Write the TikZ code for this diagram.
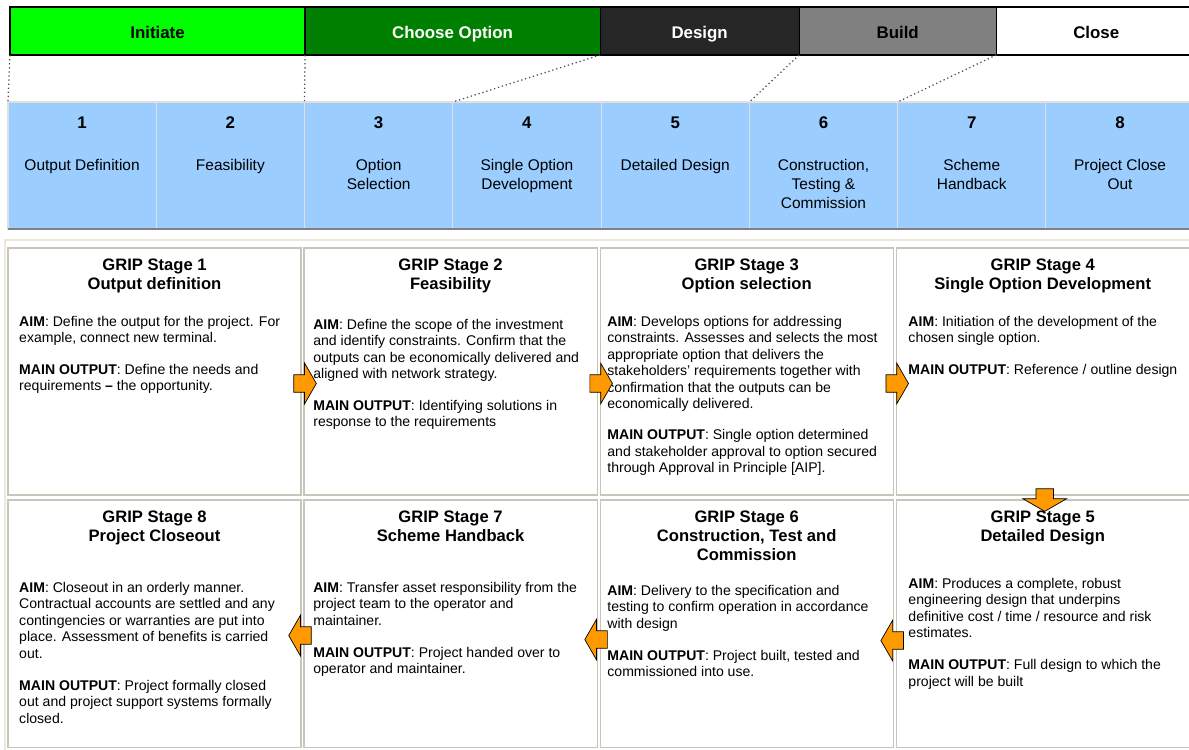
\documentclass[tikz,border=0pt]{standalone}
\usepackage{fontspec}
\setmainfont{Liberation Sans}
\usepackage{xcolor}
\usepackage{tikz}
\usetikzlibrary{shapes,shapes.arrows,calc}
\usetikzlibrary{positioning}

\definecolor{initgreen}{RGB}{0,255,0}
\definecolor{choosegreen}{RGB}{0,128,0}
\definecolor{designgrey}{RGB}{38,38,38}
\definecolor{buildgrey}{RGB}{128,128,128}
\definecolor{stageblue}{RGB}{155,205,255}
\definecolor{arroworange}{RGB}{255,153,0}
\definecolor{cellline}{RGB}{200,198,186}
\definecolor{framebeige}{RGB}{236,233,218}

\tikzset{
	phase/.style={draw=black,line width=0.8pt,outer sep=0pt,minimum height=1.2cm,inner sep=0pt,text height=12.8pt,text depth=2.6pt,font=\fontsize{12}{14}\selectfont\bfseries},
	stagebox/.style={draw=white!75!gray,fill=stageblue,line width=0.8pt,outer sep=0pt,minimum width=3.706cm,minimum height=3.175cm,inner sep=0pt},
	stagenum/.style={inner sep=0pt,font=\fontsize{12}{14}\selectfont\bfseries},
	stagename/.style={anchor=north,inner sep=0pt,align=center,font=\fontsize{11}{13.5}\selectfont},
	card/.style={draw=cellline,fill=white,line width=0.8pt,outer sep=0pt,minimum width=7.325cm,minimum height=6.175cm,inner sep=0pt},
	cardtitle/.style={anchor=north,inner sep=0pt,align=center,font=\fontsize{11.8}{13.5}\selectfont\bfseries},
	cardtext/.style={anchor=north west,inner sep=0pt,align=left,font=\fontsize{10}{11.7}\selectfont},
	flow/.style={single arrow,draw=black,fill=arroworange,line width=0.5pt,inner sep=0.21cm,
		single arrow head extend=0.29cm,single arrow tip angle=120,minimum height=0.55cm},
	phaselink/.style={dotted,line width=0.9pt,black!70}
}

\begin{document}
\begin{tikzpicture}[x=0.025cm,y=-0.025cm]
	\clip (0,0) rectangle (1189,749);
	
	% phases
	\node[phase,fill=initgreen,minimum width=7.375cm] (init) at (157.5,31) {Initiate};
	\node[phase,fill=choosegreen,text=white,minimum width=7.375cm] (choose) [right=0cm of init] {Choose Option};
	\node[phase,fill=designgrey,text=white,minimum width=4.975cm] (design) [right=0cm of choose] {Design};
	\node[phase,fill=buildgrey,minimum width=4.925cm] (build) [right=0cm of design] {Build};
	\node[phase,fill=white,minimum width=5cm] (close) [right=0cm of build] {Close};
	
	% stages
	\node[stagebox] (s1) at (82.1,165.5) {};
	\node[stagebox] (s2) [right=0cm of s1] {};
	\node[stagebox] (s3) [right=0cm of s2] {};
	\node[stagebox] (s4) [right=0cm of s3] {};
	\node[stagebox] (s5) [right=0cm of s4] {};
	\node[stagebox] (s6) [right=0cm of s5] {};
	\node[stagebox] (s7) [right=0cm of s6] {};
	\node[stagebox] (s8) [right=0cm of s7] {};
	\draw[gray,line width=1pt] (s1.south west) -- (s8.south east);
	
	\node[stagenum] (n1) at ($(s1.north)+(0,21)$) {1};
	\node[stagenum] (n2) at ($(s2.north)+(0,21)$) {2};
	\node[stagenum] (n3) at ($(s3.north)+(0,21)$) {3};
	\node[stagenum] (n4) at ($(s4.north)+(0,21)$) {4};
	\node[stagenum] (n5) at ($(s5.north)+(0,21)$) {5};
	\node[stagenum] (n6) at ($(s6.north)+(0,21)$) {6};
	\node[stagenum] (n7) at ($(s7.north)+(0,21)$) {7};
	\node[stagenum] (n8) at ($(s8.north)+(0,21)$) {8};
	
	\node[stagename] (t1) at ($(s1.north)+(0,57)$) {Output Definition};
	\node[stagename] (t2) at ($(s2.north)+(0,57)$) {Feasibility};
	\node[stagename] (t3) at ($(s3.north)+(0,57)$) {Option\\Selection};
	\node[stagename] (t4) at ($(s4.north)+(0,57)$) {Single Option\\Development};
	\node[stagename] (t5) at ($(s5.north)+(0,57)$) {Detailed Design};
	\node[stagename] (t6) at ($(s6.north)+(0,57)$) {Construction,\\Testing \&\\Commission};
	\node[stagename] (t7) at ($(s7.north)+(0,57)$) {Scheme\\Handback};
	\node[stagename] (t8) at ($(s8.north)+(0,57)$) {Project Close\\Out};
	
	% phase to stage links
	\draw[phaselink] (init.south west) -- (s1.north west);
	\draw[phaselink] (choose.south west) -- (s3.north west);
	\draw[phaselink] (design.south west) -- (s4.north west);
	\draw[phaselink] (build.south west) -- (s6.north west);
	\draw[phaselink] (close.south west) -- (s7.north west);
	
	% grid frame
	\draw[framebeige,line width=1pt] (5,240) rectangle (1200,760);
	
	% stage cards
	\node[card] (c1) at (154.5,371.5) {};
	\node[card] (c2) [right=0.075cm of c1] {};
	\node[card] (c3) [right=0.075cm of c2] {};
	\node[card] (c4) [right=0.075cm of c3] {};
	\node[card] (c8) [below=0.125cm of c1] {};
	\node[card] (c7) [right=0.075cm of c8] {};
	\node[card] (c6) [right=0.075cm of c7] {};
	\node[card] (c5) [right=0.075cm of c6] {};
	
	\node[cardtitle] (h1) at ($(c1.north)+(0,11)$) {GRIP Stage 1\\Output definition};
	\node[cardtitle] (h2) at ($(c2.north)+(0,11)$) {GRIP Stage 2\\Feasibility};
	\node[cardtitle] (h3) at ($(c3.north)+(0,11)$) {GRIP Stage 3\\Option selection};
	\node[cardtitle] (h4) at ($(c4.north)+(0,11)$) {GRIP Stage 4\\Single Option Development};
	\node[cardtitle] (h5) at ($(c5.north)+(0,11)$) {GRIP Stage 5\\Detailed Design};
	\node[cardtitle] (h6) at ($(c6.north)+(0,11)$) {GRIP Stage 6\\Construction, Test and\\Commission};
	\node[cardtitle] (h7) at ($(c7.north)+(0,11)$) {GRIP Stage 7\\Scheme Handback};
	\node[cardtitle] (h8) at ($(c8.north)+(0,11)$) {GRIP Stage 8\\Project Closeout};
	
	\node[cardtext] (b1) at ($(c1.north west)+(11,68)$) {\textbf{AIM}: Define the output for the project. For\\example, connect new terminal.\\[10.5pt]\textbf{MAIN OUTPUT}: Define the needs and\\requirements \textbf{--} the opportunity.};
	\node[cardtext] (b2) at ($(c2.north west)+(9,71)$) {\textbf{AIM}: Define the scope of the investment\\and identify constraints. Confirm that the\\outputs can be economically delivered and\\aligned with network strategy.\\[10.5pt]\textbf{MAIN OUTPUT}: Identifying solutions in\\response to the requirements};
	\node[cardtext] (b3) at ($(c3.north west)+(7,68)$) {\textbf{AIM}: Develops options for addressing\\constraints. Assesses and selects the most\\appropriate option that delivers the\\stakeholders' requirements together with\\confirmation that the outputs can be\\economically delivered.\\[10.5pt]\textbf{MAIN OUTPUT}: Single option determined\\and stakeholder approval to option secured\\through Approval in Principle [AIP].};
	\node[cardtext] (b4) at ($(c4.north west)+(12,68)$) {\textbf{AIM}: Initiation of the development of the\\chosen single option.\\[10.5pt]\textbf{MAIN OUTPUT}: Reference / outline design};
	\node[cardtext] (b5) at ($(c5.north west)+(12,78)$) {\textbf{AIM}: Produces a complete, robust\\engineering design that underpins\\definitive cost / time / resource and risk\\estimates.\\[11pt]\textbf{MAIN OUTPUT}: Full design to which the\\project will be built};
	\node[cardtext] (b6) at ($(c6.north west)+(7,85)$) {\textbf{AIM}: Delivery to the specification and\\testing to confirm operation in accordance\\with design\\[11pt]\textbf{MAIN OUTPUT}: Project built, tested and\\commissioned into use.};
	\node[cardtext] (b7) at ($(c7.north west)+(9,82)$) {\textbf{AIM}: Transfer asset responsibility from the\\project team to the operator and\\maintainer.\\[11pt]\textbf{MAIN OUTPUT}: Project handed over to\\operator and maintainer.};
	\node[cardtext] (b8) at ($(c8.north west)+(11,82)$) {\textbf{AIM}: Closeout in an orderly manner.\\Contractual accounts are settled and any\\contingencies or warranties are put into\\place. Assessment of benefits is carried\\out.\\[11pt]\textbf{MAIN OUTPUT}: Project formally closed\\out and project support systems formally\\closed.};
	
	% flow arrows
	\node[flow] (a12) at ($(c1.east)!0.5!(c2.west)+(0,12)$) {};
	\node[flow] (a23) at ($(c2.east)!0.5!(c3.west)+(0,12)$) {};
	\node[flow] (a34) at ($(c3.east)!0.5!(c4.west)+(0,12)$) {};
	\node[flow,shape border rotate=270,single arrow head extend=0.33cm] (a45) at ($(c4.south)!0.5!(c5.north)+(2,0)$) {};
	\node[flow,shape border rotate=180] (a56) at ($(c5.west)!0.5!(c6.east)+(0,17)$) {};
	\node[flow,shape border rotate=180] (a67) at ($(c6.west)!0.5!(c7.east)+(0,16)$) {};
	\node[flow,shape border rotate=180] (a78) at ($(c7.west)!0.5!(c8.east)+(0,12)$) {};
	
\end{tikzpicture}
\end{document}
